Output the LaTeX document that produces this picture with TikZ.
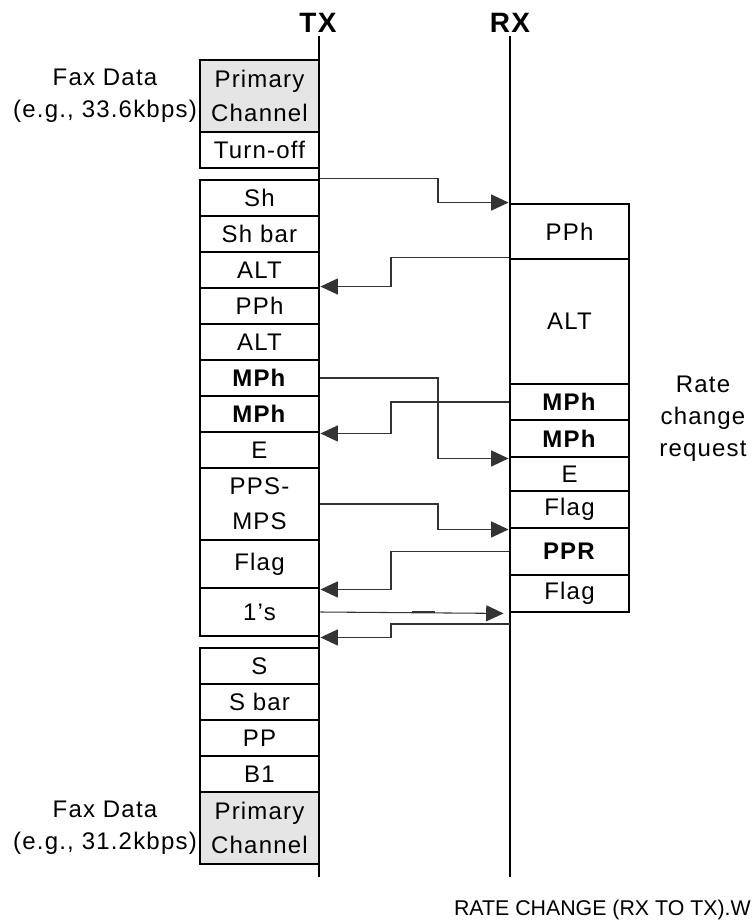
\documentclass[tikz,border=0pt]{standalone}
\usepackage{fontspec}
\setmainfont{Liberation Sans}[LetterSpace=5]
\newfontfamily\pie{Liberation Sans}
\usetikzlibrary{
    arrows.meta
}
\tikzset{
    >={Triangle[length=13pt,width=12pt]},
    caja/.style={
        draw,
        line width=2.2pt,
        minimum width=89.25pt,
        inner sep=0pt,
        align=center,
        font=\fontsize{18}{26}\selectfont
    },
    gris/.style={fill=black!10},
    alto/.style={minimum height=#1*0.75pt},
    texto/.style={align=center, font=\fontsize{18}{24}\selectfont},
    eje/.style={line width=2.2pt},
    flecha/.style={->, line width=0.8pt, draw=black!80}
}

\begin{document}
\begin{tikzpicture}[
    x=0.75pt,
    y=-0.75pt
]
    \useasboundingbox (0,0) rectangle (751,922);

    % Ejes
    \node[font=\bfseries\fontsize{21}{21}\selectfont] (tx) at (318,23) {TX};
    \node[font=\bfseries\fontsize{21}{21}\selectfont] (rx) at (510,23) {RX};
    \coordinate (txini) at (319,36);
    \coordinate (txfin) at (319,877);
    \coordinate (rxini) at (510,36);
    \coordinate (rxfin) at (510,877);
    \draw[eje] (txini) -- (txfin);
    \draw[eje] (rxini) -- (rxfin);

    % Lado TX
    \node[caja, gris, alto=72] (pc1)  at (259.5,96)  {Primary\\Channel};
    \node[caja, alto=36]       (toff) at (259.5,150) {Turn-off};

    \node[caja, alto=36]       (sh)   at (259.5,198) {Sh};
    \node[caja, alto=36]       (shb)  at (259.5,234) {Sh bar};
    \node[caja, alto=36]       (alt1) at (259.5,270) {ALT};
    \node[caja, alto=36]       (pph)  at (259.5,306) {PPh};
    \node[caja, alto=36]       (alt2) at (259.5,342) {ALT};
    \node[caja, alto=36]       (mph1) at (259.5,378) {\textbf{MPh}};
    \node[caja, alto=36]       (mph2) at (259.5,414) {\textbf{MPh}};
    \node[caja, alto=36]       (e)    at (259.5,450) {E};
    \node[caja, alto=72]       (pps)  at (259.5,504) {PPS-\\MPS};
    \node[caja, alto=48]       (flag) at (259.5,564) {Flag};
    \node[caja, alto=48]       (ones) at (259.5,612) {1's};

    \node[caja, alto=36]       (s)    at (259.5,666) {S};
    \node[caja, alto=36]       (sb)   at (259.5,702) {S bar};
    \node[caja, alto=36]       (pp)   at (259.5,738) {PP};
    \node[caja, alto=36]       (b1)   at (259.5,774) {B1};
    \node[caja, gris, alto=72] (pc2)  at (259.5,828) {Primary\\Channel};

    % Lado RX
    \node[caja, alto=55]  (rpph)   at (569.5,231.5) {PPh};
    \node[caja, alto=125] (ralt)   at (569.5,321.5) {ALT};
    \node[caja, alto=36]  (rmph1)  at (569.5,402)   {\textbf{MPh}};
    \node[caja, alto=37]  (rmph2)  at (569.5,438.5) {\textbf{MPh}};
    \node[caja, alto=34]  (re)     at (569.5,474)   {E};
    \node[caja, alto=37]  (rflag1) at (569.5,509.5) {Flag};
    \node[caja, alto=47]  (rppr)   at (569.5,551.5) {\textbf{PPR}};
    \node[caja, alto=37]  (rflag2) at (569.5,593.5) {Flag};

    % Textos
    \node[texto] (fax1) at (105,96)  {Fax Data\\(e.g., 33.6kbps)};
    \node[texto] (fax2) at (105,828) {Fax Data\\(e.g., 31.2kbps)};
    \node[texto] (rate) at (703,419) {Rate\\change\\request};
    \node[anchor=east, inner sep=0pt, font=\pie\fontsize{16}{16}\selectfont]
        (pie) at (751,910) {RATE CHANGE (RX TO TX).W};

    % Transiciones
    \coordinate (ida)    at (438,0);
    \coordinate (vuelta) at (391,0);
    \coordinate (rx624)  at (510,624);

    \draw[flecha] (sh.north east) -| (ida |- rpph.north west) -- (rpph.north west);
    \draw[flecha] (ralt.north west) -| (vuelta |- pph.north east) -- (pph.north east);
    \draw[flecha] (mph1.east) -| (ida |- rmph2.south west) -- (rmph2.south west);
    \draw[flecha] (rmph1.west) -| (vuelta |- mph2.south east) -- (mph2.south east);
    \draw[flecha] (pps.east) -| (ida |- rflag1.south west) -- (rflag1.south west);
    \draw[flecha] (rppr.west) -| (vuelta |- flag.south east) -- (flag.south east);
    \draw[flecha, shorten >=3.75pt] (ones.east) -- (rflag2.south west);
    \draw[flecha] (rx624) -| (vuelta |- ones.south east) -- (ones.south east);

    \draw[line width=2pt, black!80] (412,612) -- (435,612);

\end{tikzpicture}
\end{document}
